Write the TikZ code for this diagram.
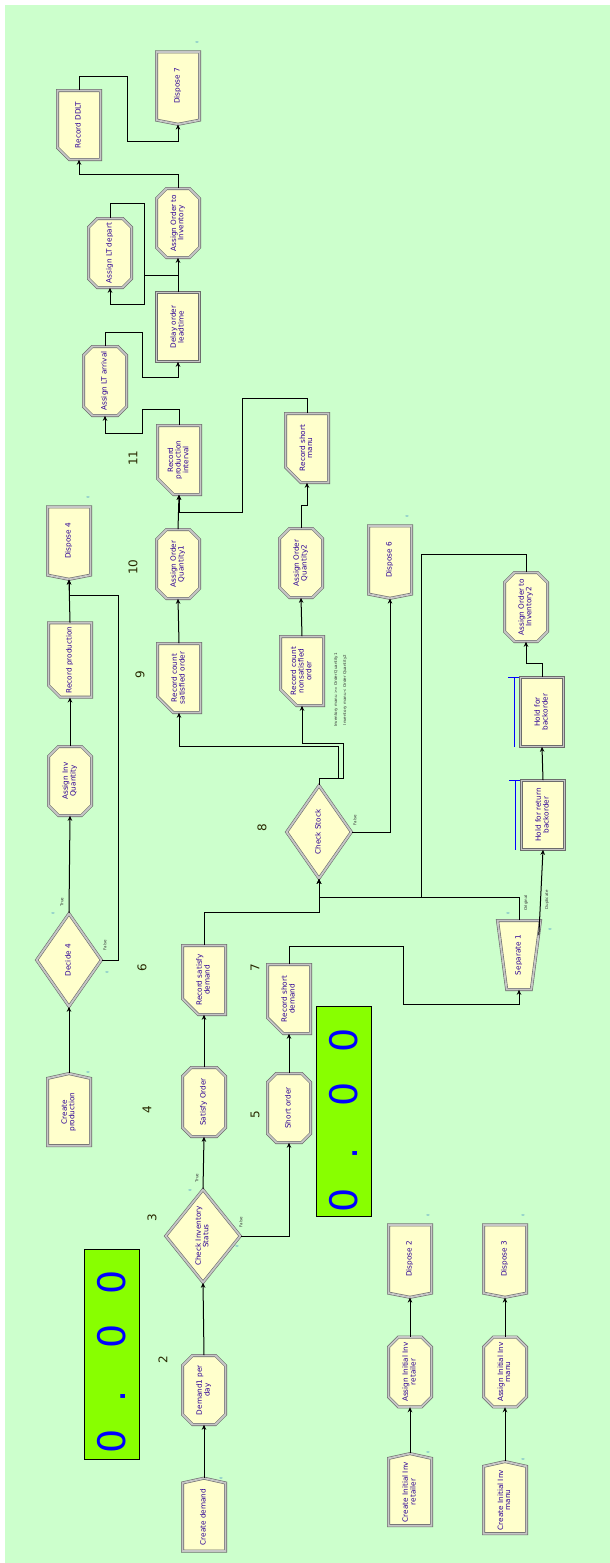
\documentclass[tikz,border=0pt]{standalone}
\usepackage{fontspec}
\setmainfont{DejaVu Sans}
\usepackage{graphicx}
\usetikzlibrary{shapes.misc,shapes.symbols,shapes.geometric,arrows.meta,calc}
\definecolor{bg}{RGB}{204,255,204}
\definecolor{yel}{RGB}{255,255,204}
\definecolor{txt}{RGB}{45,0,150}
\definecolor{lcd}{RGB}{136,255,0}
\definecolor{numc}{RGB}{40,40,0}
\definecolor{tinyc}{RGB}{60,140,200}
\newcommand{\rt}[1]{\rotatebox{90}{\begin{tabular}{@{}c@{}}#1\end{tabular}}}
\tikzset{
 base/.style={draw=gray!85!black, double=gray!45, double distance=1.8pt, line width=0.6pt, fill=yel, text=txt, font=\fontsize{7.3}{7}\selectfont, inner sep=0pt, minimum width=43pt, minimum height=69pt},
 assign/.style={base, chamfered rectangle, chamfered rectangle xsep=5pt, chamfered rectangle ysep=5pt},
 record/.style={base, chamfered rectangle, chamfered rectangle corners=south west, chamfered rectangle xsep=8pt, chamfered rectangle ysep=8pt},
 plainbox/.style={base, rectangle},
 create/.style={base, signal, signal to=north, signal pointer angle=155},
 dispose/.style={base, signal, signal to=south, signal pointer angle=158},
 decide/.style={base, diamond, minimum width=65pt, minimum height=93pt},
 separate/.style={base, trapezium, shape border rotate=180, trapezium left angle=86, trapezium right angle=86, trapezium stretches=true},
 conn/.style={draw=black, line width=1pt, -{Stealth[length=5pt,width=4.5pt]}},
 numlbl/.style={text=numc, font=\fontsize{12}{12}\selectfont, rotate=90, inner sep=0pt},
 zero/.style={font=\fontsize{3.5}{3.5}\selectfont, text=tinyc, inner sep=0pt, rotate=90},
 cond/.style={font=\fontsize{4}{4}\selectfont, text=black!80, inner sep=0pt, rotate=90},
 lcdbox/.style={draw=black, line width=1pt, fill=lcd, minimum width=55pt, minimum height=210pt, inner sep=0pt, text=blue, font=\fontsize{38}{38}\selectfont},
 queue/.style={draw=blue, line width=1pt}
}
\begin{document}
\begin{tikzpicture}[x=1pt,y=-1pt]
\useasboundingbox (0,0) rectangle (610,1563);
\fill[white] (0,0) rectangle (610,1563);
\fill[bg] (5,5) rectangle (610,1563);

% modules
\node[record] (rddlt) at (79,125) {\rt{Record DDLT}};
\node[dispose] (disp7) at (178,86) {\rt{Dispose 7}};
\node[assign] (aoi) at (178,223) {\rt{Assign Order to\\Inventory}};
\node[assign] (altd) at (110,253) {\rt{Assign LT depart}};
\node[plainbox] (delay) at (178,327) {\rt{Delay order\\leadtime}};
\node[assign] (alta) at (105,381) {\rt{Assign LT arrival}};
\node[record] (rpi) at (179,460) {\rt{Record\\production\\interval}};
\node[dispose] (disp4) at (69,541) {\rt{Dispose 4}};
\node[assign] (aoq1) at (178,564) {\rt{Assign Order\\Quantity1}};
\node[record] (rcso) at (179,678) {\rt{Record count\\satisfied order}};
\node[record] (rprod) at (70,660) {\rt{Record production}};
\node[assign] (aiq) at (70,781) {\rt{Assign Inv\\Quantity}};
\node[decide] (dec4) at (69,960) {\rt{Decide 4}};
\node[create] (cprod) at (69,1112) {\rt{Create\\production}};
\node[record] (rsm) at (307,448) {\rt{Record short\\manu}};
\node[dispose] (disp6) at (390,560) {\rt{Dispose 6}};
\node[assign] (aoq2) at (301,563) {\rt{Assign Order\\Quantity2}};
\node[record] (rcno) at (302,671) {\rt{Record count\\nonsatisfied\\order}};
\node[assign] (aoi2) at (526,607) {\rt{Assign Order to\\Inventory2}};
\node[plainbox] (hfb) at (542,712) {\rt{Hold for\\backorder}};
\node[plainbox] (hfrb) at (543,815) {\rt{Hold for return\\backorder}};
\node[separate] (sep) at (519,955) {\rt{Separate 1}};
\node[decide] (cs) at (319,832) {\rt{Check Stock}};
\node[record] (rsd) at (204,980) {\rt{Record satisfy\\demand}};
\node[assign] (sord) at (204,1102) {\rt{Satisfy Order}};
\node[record] (rshd) at (289,999) {\rt{Record short\\demand}};
\node[assign] (short) at (289,1108) {\rt{Short order}};
\node[decide] (cis) at (203,1236) {\rt{Check Inventory\\Status}};
\node[assign] (d1) at (204,1390) {\rt{Demand1 per\\day}};
\node[create] (cdem) at (204,1517) {\rt{Create demand}};
\node[dispose] (disp2) at (410,1259) {\rt{Dispose 2}};
\node[assign] (aiir) at (410,1372) {\rt{Assign Initial Inv\\retailer}};
\node[create] (ciir) at (410,1492) {\rt{Create Initial Inv\\retailer}};
\node[dispose] (disp3) at (505,1259) {\rt{Dispose 3}};
\node[assign] (aiim) at (505,1372) {\rt{Assign Initial Inv\\manu}};
\node[create] (ciim) at (505,1500) {\rt{Create Initial Inv\\manu}};

% queues
\draw[queue] ($(hfb.north west)+(-6,0)$) -- ($(hfb.south west)+(-6,0)$);
\draw[queue] ($(hfb.north west)+(-12,0)$) -- ($(hfb.north west)+(-1,0)$);
\draw[queue] ($(hfrb.north west)+(-6,0)$) -- ($(hfrb.south west)+(-6,0)$);
\draw[queue] ($(hfrb.north west)+(-12,0)$) -- ($(hfrb.north west)+(-1,0)$);

% displays
\node[lcdbox] (lcd1) at (111.5,1354) {\rotatebox{90}{0\kern27pt.\kern42pt0\kern29pt0\kern16pt}};
\node[lcdbox] (lcd2) at (343.5,1111) {\rotatebox{90}{0\kern29pt.\kern41pt0\kern29pt0\kern19pt}};

% step numbers
\node[numlbl] (n2) at (163,1360) {2};
\node[numlbl] (n3) at (152,1218) {3};
\node[numlbl] (n4) at (147,1110) {4};
\node[numlbl] (n5) at (255,1115) {5};
\node[numlbl] (n6) at (142,968) {6};
\node[numlbl] (n7) at (255,968) {7};
\node[numlbl] (n8) at (262,828) {8};
\node[numlbl] (n9) at (140,675) {9};
\node[numlbl] (n10) at (133,567) {10};
\node[numlbl] (n11) at (133,458) {11};

% connectors
\draw[conn] (cdem.north) -- (d1.south);
\draw[conn] (d1.north) -- (cis.south);
\draw[conn] (cis.north) -- (sord.south);
\draw[conn] (cis.east) -| (short.south);
\draw[conn] (sord.north) -- (rsd.south);
\draw[conn] (short.north) -- (rshd.south);
\draw[conn] (rsd.north) |- (319,912) -- (cs.south);
\draw[conn] (rshd.north) |- (403,946) -- (403,1004) -| (sep.south);
\draw[conn] (sep.north) |- (319,897) -- (cs.south);
\draw[conn] (sep.north east) -- (hfrb.south);
\draw[conn] (aoi2.north) |- (421,554) -- (421,897) -- (319,897) -- (cs.south);
\draw[conn] (hfrb.north) -- (hfb.south);
\draw[conn] (hfb.north) -- ++(0,-14) -| (aoi2.south);
\draw[conn] (cs.east) -| (disp6.south);
\draw[conn] (cs.north) -- ++(0,-7) -| (343,743) -| (rcno.south);
\draw[conn] (cs.north) -- ++(0,-7) -| (338,746) -| (rcso.south);
\draw[conn] (rcso.north) -- (aoq1.south);
\draw[conn] (aoq1.north) -- (rpi.south);
\draw[conn] (rcno.north) -- (aoq2.south);
\draw[conn] (aoq2.north) -- ++(0,-23) -| (rsm.south);
\draw[conn] (rsm.north) -- ++(0,-15) -| (242,512) -| (rpi.south);
\draw[conn] (rpi.north) -- ++(0,-16) -| (142,433) -| (alta.south);
\draw[conn] (alta.north) -- ++(0,-14) -| (142,377) -| (delay.south);
\draw[conn] (delay.north) -- ++(0,-17) -| (144,304) -| (altd.south);
\draw[conn] (altd.north) -- ++(0,-15) -| (144,275) -| (aoi.south);
\draw[conn] (aoi.north) -- ++(0,-14) -| (rddlt.south);
\draw[conn] (rddlt.north) -- ++(0,-14) -| (127,141) -| (disp7.south);
\draw[conn] (cprod.north) -- (dec4.south);
\draw[conn] (dec4.north) -- (aiq.south);
\draw[conn] (aiq.north) -- (rprod.south);
\draw[conn] (rprod.north) -- (disp4.south);
\draw[conn] (dec4.east) -| (118,595) -| (disp4.south);
\draw[conn] (ciir.north) -- (aiir.south);
\draw[conn] (aiir.north) -- (disp2.south);
\draw[conn] (ciim.north) -- (aiim.south);
\draw[conn] (aiim.north) -- (disp3.south);

% small labels
\node[cond] (t4) at (62,902) {True};
\node[cond] (f4) at (105,945) {False};
\node[cond] (tcis) at (197,1178) {True};
\node[cond] (fcis) at (241,1222) {False};
\node[cond] (fcs) at (355,820) {False};
\node[cond] (orig) at (526,903) {Original};
\node[cond] (dupl) at (547,900) {Duplicate};
\node[cond] (c1) at (336,690) {Inventory manu >= Order Quantity1};
\node[cond] (c2) at (345,690) {Inventory manu < Order Quantity2};
\node[zero] (z1) at (197,42) {0};
\node[zero] (z2) at (88,497) {0};
\node[zero] (z3) at (88,1072) {0};
\node[zero] (z4) at (107,972) {0};
\node[zero] (z5) at (53,913) {0};
\node[zero] (z6) at (407,516) {0};
\node[zero] (z7) at (221,1478) {0};
\node[zero] (z8) at (428,1215) {0};
\node[zero] (z9) at (428,1452) {0};
\node[zero] (z10) at (523,1215) {0};
\node[zero] (z11) at (523,1459) {0};
\node[zero] (z12) at (508,913) {0};
\node[zero] (z13) at (550,929) {0};
\node[zero] (z14) at (190,1190) {0};
\node[zero] (z15) at (237,1246) {0};
\end{tikzpicture}
\end{document}
